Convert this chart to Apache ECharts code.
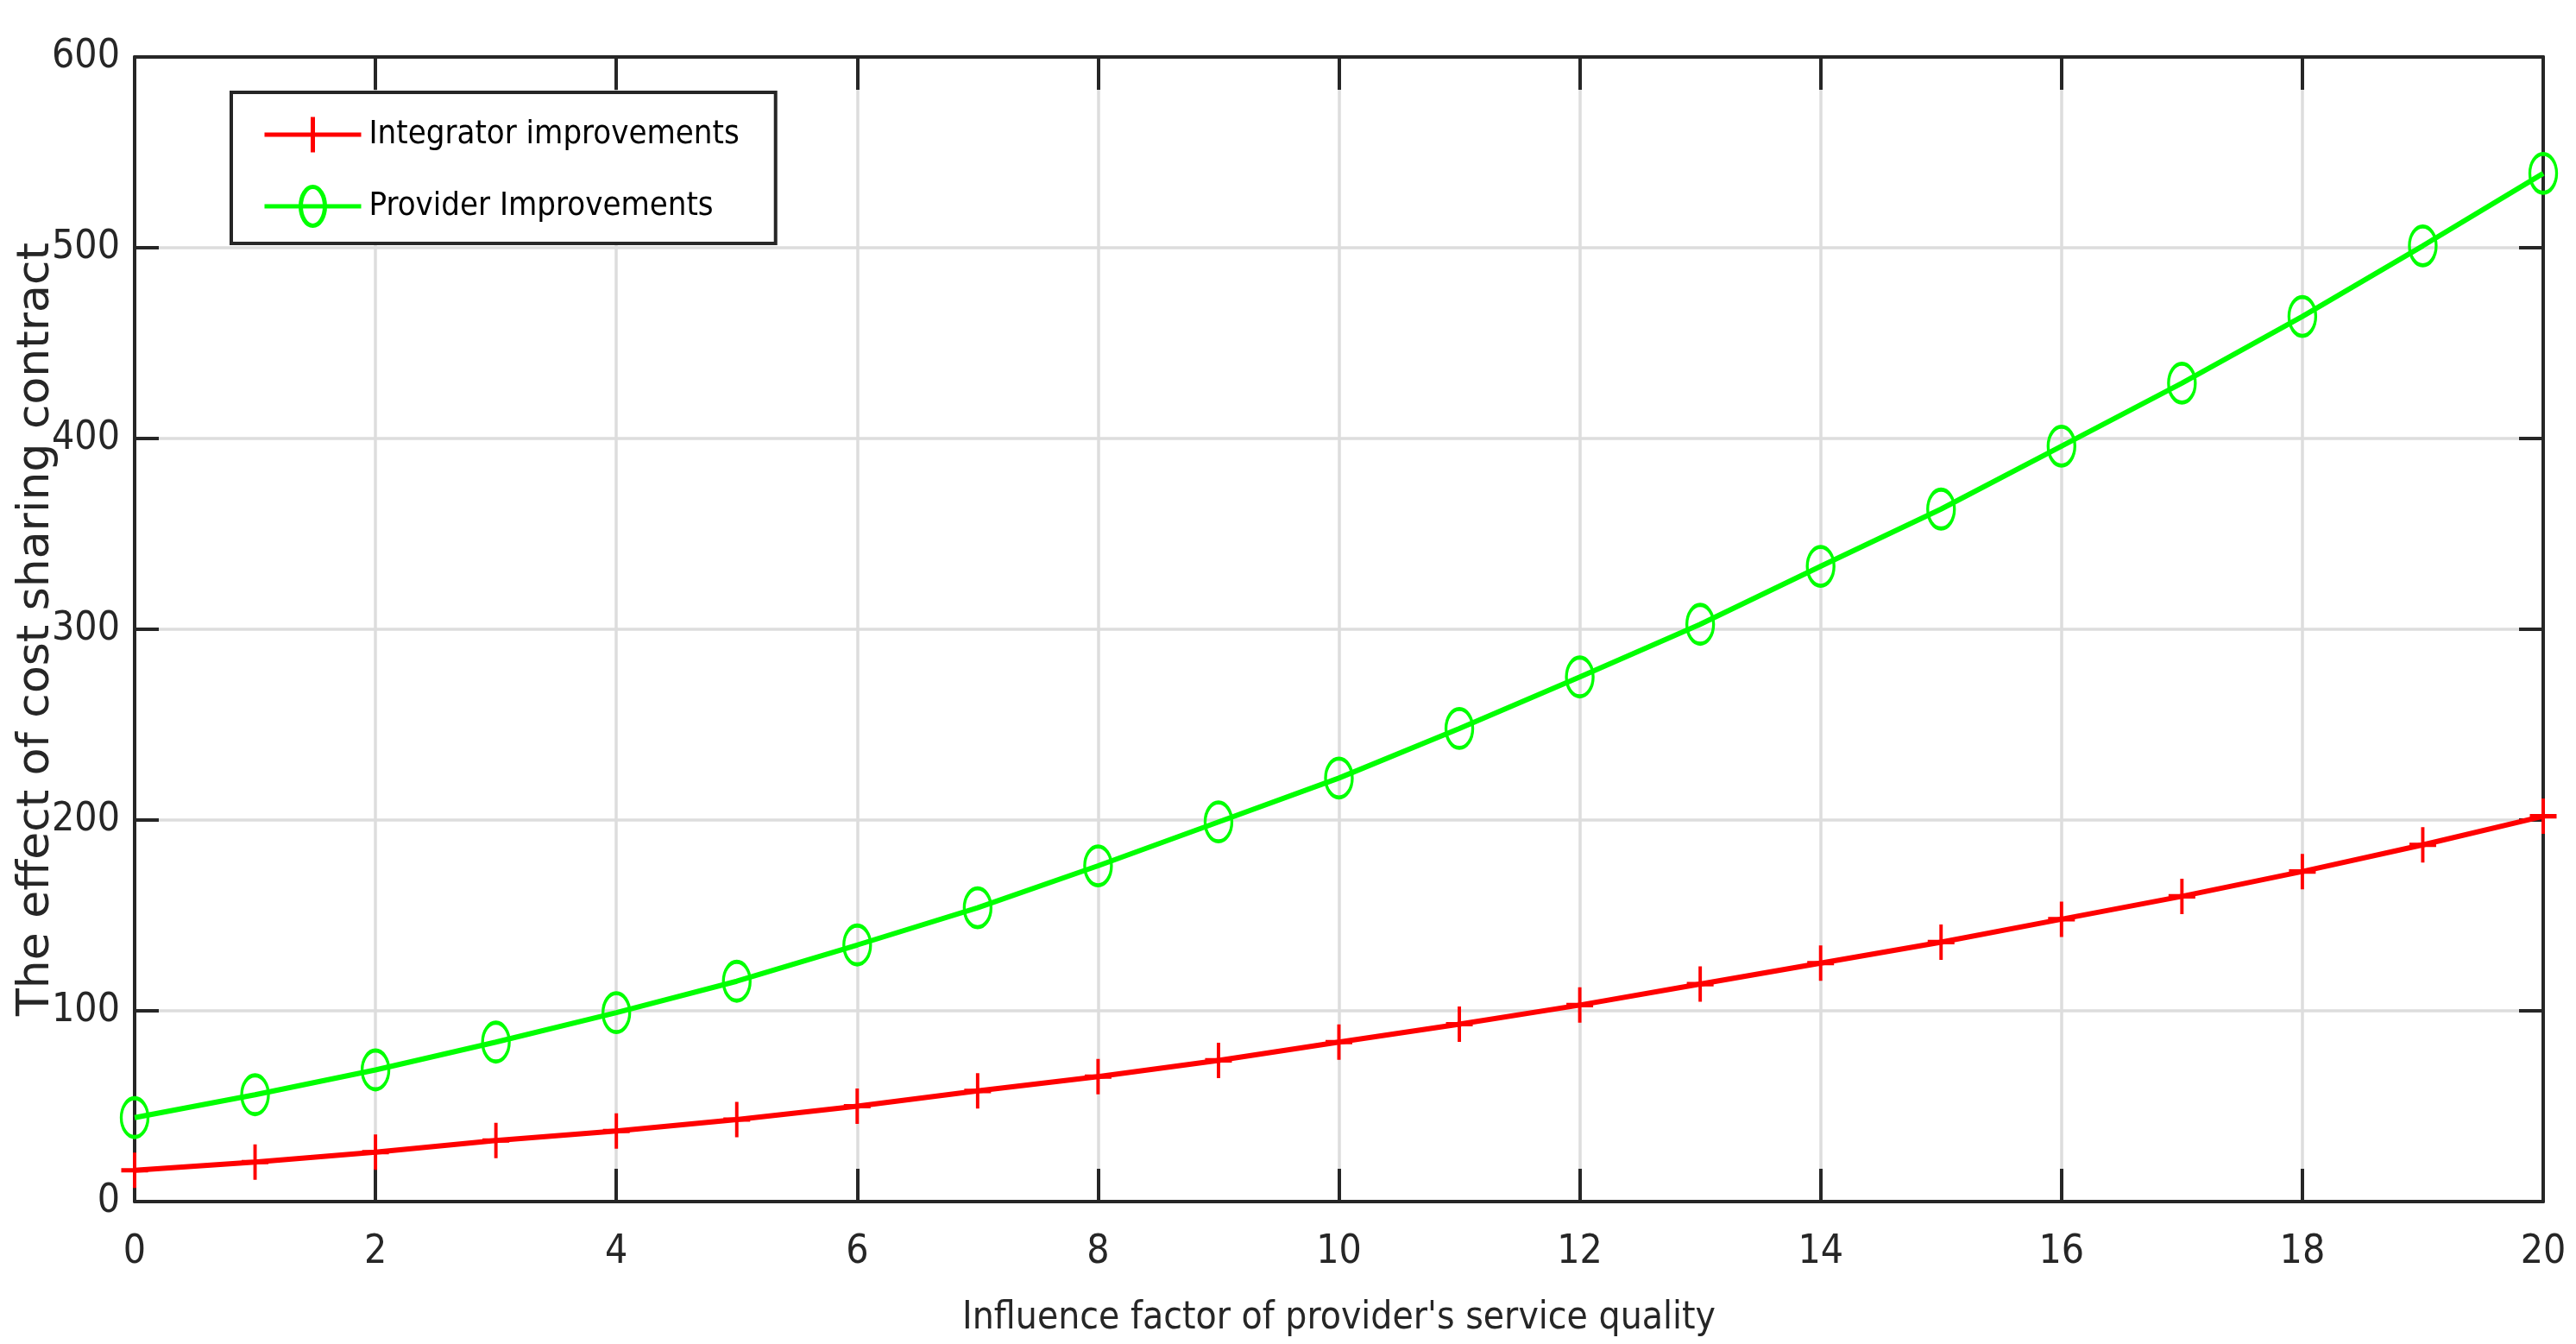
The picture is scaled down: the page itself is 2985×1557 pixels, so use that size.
<!DOCTYPE html>
<html>
<head>
<meta charset="utf-8">
<script src="https://cdn.jsdelivr.net/npm/echarts@6/dist/echarts.min.js"></script>
<style>
html,body{margin:0;padding:0;background:#fff;}
#chart{width:2985px;height:1557px;}
</style>
</head>
<body>
<div id="chart"></div>
<script>
const xValues = [0,1,2,3,4,5,6,7,8,9,10,11,12,13,14,15,16,17,18,19,20];
const integratorValues = [16.4,20.7,25.9,32,37,43,50,58,65.5,74,83.6,93,103,114,125,136,148,160,173,187,202];
const providerValues = [44,56,69,83.6,99,115.5,134.5,154,176,199,222,248,275,302.6,333,363,396,429,464,501,539];
const seriesNames = ['Integrator improvements','Provider Improvements'];
const xAxisTitle = "Influence factor of provider's service quality";
const yAxisTitle = 'The effect of cost sharing contract';

const AX = '#262626';
const NARROW = "'DejaVu Sans Condensed','Liberation Sans Narrow',sans-serif";
const plusPath = 'path://M1,0 L1,2 M0,1 L2,1';
const ellipsePath = 'path://M1,0 A1,1 0 1,1 1,2 A1,1 0 1,1 1,0 Z';
const legendPlus = 'path://M0,22.5 L112,22.5 M56,2 L56,43';
const legendEllipse = 'path://M0,22.5 L112,22.5 M56,0 A14,22.5 0 1,1 56,45 A14,22.5 0 1,1 56,0';

const pair = (ys) => xValues.map((x, i) => [x, ys[i]]);

const chart = echarts.init(document.getElementById('chart'));
const baseAxisLine = {show: true, onZero: false, lineStyle: {color: AX, width: 4}};
chart.setOption({
  animation: false,
  backgroundColor: '#fff',
  grid: {left: 156, top: 66, right: 38, bottom: 165, containLabel: false, outerBoundsMode: 'none'},
  legend: {
    orient: 'vertical',
    left: 268, top: 107,
    padding: [26, 42, 18, 36],
    itemWidth: 112, itemHeight: 45, itemGap: 35,
    backgroundColor: '#fff',
    borderColor: AX, borderWidth: 4,
    textStyle: {fontFamily: NARROW, fontSize: 38, color: '#000', padding: [0,0,0,4]},
    data: [
      {name: seriesNames[0], icon: legendPlus, itemStyle: {color: 'transparent', borderColor: '#ff0000', borderWidth: 5}},
      {name: seriesNames[1], icon: legendEllipse, itemStyle: {color: 'transparent', borderColor: '#00ff00', borderWidth: 5}}
    ]
  },
  xAxis: [{
    type: 'value', min: 0, max: 20, interval: 2, position: 'bottom',
    name: xAxisTitle, nameLocation: 'middle', nameGap: 114, nameMoveOverlap: false,
    nameTextStyle: {fontFamily: NARROW, fontSize: 44, color: AX},
    axisLine: baseAxisLine,
    axisTick: {show: true, inside: true, length: 38, lineStyle: {color: AX, width: 4}},
    axisLabel: {fontFamily: NARROW, fontSize: 46, color: AX, margin: 36},
    splitLine: {show: true, lineStyle: {color: '#dddddd', width: 3.5}}
  }, {
    type: 'value', min: 0, max: 20, interval: 2, position: 'top',
    axisLine: baseAxisLine,
    axisTick: {show: true, inside: true, length: 38, lineStyle: {color: AX, width: 4}},
    axisLabel: {show: false}, splitLine: {show: false}
  }],
  yAxis: [{
    type: 'value', min: 0, max: 600, interval: 100, position: 'left',
    name: yAxisTitle, nameLocation: 'middle', nameGap: 88, nameRotate: 90, nameMoveOverlap: false,
    nameTextStyle: {fontFamily: "'DejaVu Sans',sans-serif", fontSize: 52, color: AX},
    axisLine: baseAxisLine,
    axisTick: {show: true, inside: true, length: 28, lineStyle: {color: AX, width: 4}},
    axisLabel: {fontFamily: NARROW, fontSize: 46, color: AX, margin: 17},
    splitLine: {show: true, lineStyle: {color: '#dddddd', width: 3.5}}
  }, {
    type: 'value', min: 0, max: 600, interval: 100, position: 'right',
    axisLine: baseAxisLine,
    axisTick: {show: true, inside: true, length: 28, lineStyle: {color: AX, width: 4}},
    axisLabel: {show: false}, splitLine: {show: false}
  }],
  series: [{
    name: seriesNames[0], type: 'line', data: pair(integratorValues),
    xAxisIndex: 0, yAxisIndex: 0, clip: false, showAllSymbol: true,
    symbol: plusPath, symbolSize: [31, 41],
    lineStyle: {color: '#ff0000', width: 6},
    itemStyle: {color: 'transparent', borderColor: '#ff0000', borderWidth: 4.5},
    emphasis: {disabled: true}, z: 3
  }, {
    name: seriesNames[1], type: 'line', data: pair(providerValues),
    xAxisIndex: 0, yAxisIndex: 0, clip: false, showAllSymbol: true,
    symbol: ellipsePath, symbolSize: [31, 45],
    lineStyle: {color: '#00ff00', width: 6},
    itemStyle: {color: 'transparent', borderColor: '#00ff00', borderWidth: 4},
    emphasis: {disabled: true}, z: 3
  }]
});
</script>
</body>
</html>
